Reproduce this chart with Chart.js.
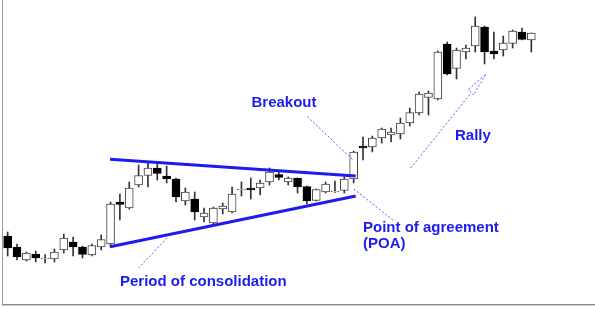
<!DOCTYPE html>
<html>
<head>
<meta charset="utf-8">
<script src="https://cdn.jsdelivr.net/npm/chart.js@4/dist/chart.umd.min.js"></script>
<style>
  html, body { margin: 0; padding: 0; background: #fff; }
  #wrap { width: 595px; height: 309px; position: relative; }
</style>
</head>
<body>
<div id="wrap"><canvas id="velas"></canvas></div>
<script>
// ===== datos de las velas (precio en unidades arbitrarias) =====
const opens  = [73, 62, 49, 55, 50, 50, 59, 67, 62, 54, 62, 65, 107, 101, 124, 133.5, 141, 133, 130, 108,
                110, 92, 86, 100, 97, 119, 121, 121, 127, 134.5, 127, 131, 122.5, 108.5, 117, 117, 118.5, 130,
                163, 162, 171, 174, 175, 186, 196, 211.5, 210, 265, 240.5, 257, 263, 282, 258, 259, 265.5, 277, 269];
const closes = [61, 52, 56, 51, 51, 57, 71, 62, 54.5, 63.5, 69.5, 105, 104.5, 121, 133.5, 141, 135.5, 130, 112, 117,
                97, 96, 101, 103, 115, 120, 119, 126, 137, 131.5, 131, 122, 108, 119.5, 125, 118, 130, 157,
                161, 171, 180, 177, 186, 196.5, 215, 216, 257, 235, 259, 261, 283, 257, 255, 266, 278, 269.5, 276];
const highs  = [77, 65, 57, 58, 54.5, 60, 75, 72, 63, 65, 74, 107, 115, 127, 144, 146, 145, 143, 131, 121,
                117, 101, 102, 106, 122, 127, 131, 129, 141, 137, 132, 131, 123, 120, 127, 128, 132, 158,
                172, 173, 181, 181, 191, 201, 217, 218, 258, 267, 261, 264, 292, 283, 277, 273, 279, 281, 276];
const lows   = [53, 49, 48, 47, 46, 47, 56, 53, 51, 53, 59, 62, 89, 100, 122, 122, 129, 126, 107, 104,
                89, 87, 85, 95, 96, 113, 110, 114, 124, 129, 124, 116, 105, 108, 116, 116.5, 116, 126,
                149, 157, 166, 167, 170, 183, 194, 194, 209, 234, 230, 250, 257, 245, 250, 253, 261, 269, 257];

// ===== anotaciones (en unidades de indice / precio) =====
const lineaSuperior = [{ x: 10.95, y: 149.7 }, { x: 37.22, y: 133 }];
const lineaInferior = [{ x: 10.95, y: 62.3 }, { x: 37.22, y: 113 }];
const guiaBreakout  = [{ x: 32.06, y: 192.3 }, { x: 36.94, y: 149 }];
const guiaPOA       = [{ x: 37.02, y: 120 }, { x: 41.2, y: 89 }];
const guiaPeriodo   = [{ x: 17.05, y: 71 }, { x: 14.0, y: 41 }];
const guiaRally     = [{ x: 43.1, y: 141 }, { x: 49.56, y: 216 }];
const flechaRally   = [{ x: 49.27, y: 219.7 }, { x: 51.16, y: 235 }, { x: 49.81, y: 214 }, { x: 49.27, y: 219.7 }];

const textos = [
    { texto: 'Breakout', x: 251.5, y: 106.5 },
    { texto: 'Rally', x: 455, y: 140 },
    { texto: 'Point of agreement', x: 363, y: 231.5 },
    { texto: '(POA)', x: 363, y: 248 },
    { texto: 'Period of consolidation', x: 120, y: 285.5 }
];

const AZUL = '#1c1cee';
const AZUL_PUNTOS = '#5c5cff';

const indices = opens.map((_, i) => i);
const subida = indices.map(i => closes[i] >= opens[i]);

// marco gris (izquierda y abajo) y textos
const marcoYTextos = {
    id: 'marcoYTextos',
    beforeDraw(chart) {
        const ctx = chart.ctx;
        ctx.save();
        ctx.fillStyle = '#fff';
        ctx.fillRect(0, 0, chart.width, chart.height);
        ctx.fillStyle = '#9a9a9a';
        ctx.fillRect(2, 0, 1, 305);
        ctx.fillStyle = '#8a8a8a';
        ctx.fillRect(2, 304, chart.width - 2, 1);
        ctx.fillStyle = '#c8c8c8';
        ctx.fillRect(2, 305, chart.width - 2, 1);
        ctx.restore();
    },
    afterDraw(chart) {
        const ctx = chart.ctx;
        ctx.save();
        ctx.font = 'bold 15px "Liberation Sans", Arial, sans-serif';
        ctx.fillStyle = AZUL;
        ctx.textBaseline = 'alphabetic';
        textos.forEach(t => ctx.fillText(t.texto, t.x, t.y));
        ctx.restore();
    }
};

function guia(datos) {
    return {
        type: 'line',
        data: datos,
        borderColor: AZUL_PUNTOS,
        borderWidth: 1,
        borderDash: [2, 2],
        pointRadius: 0,
        fill: false,
        order: -1
    };
}

function tendencia(datos) {
    return {
        type: 'line',
        data: datos,
        borderColor: AZUL,
        borderWidth: 3,
        pointRadius: 0,
        fill: false,
        order: -2
    };
}

new Chart(document.getElementById('velas').getContext('2d'), {
    data: {
        datasets: [
            {
                type: 'bar',
                label: 'Mechas',
                data: indices.map(i => ({ x: i, y: [lows[i], highs[i]] })),
                backgroundColor: '#333333',
                borderWidth: 0,
                barThickness: 1,
                grouped: false,
                order: 2
            },
            {
                type: 'bar',
                label: 'Cuerpos',
                data: indices.map(i => ({ x: i, y: [opens[i], closes[i]] })),
                backgroundColor: subida.map(s => s ? '#ffffff' : '#000000'),
                borderColor: subida.map(s => s ? '#444444' : '#000000'),
                borderWidth: 1,
                borderSkipped: false,
                barThickness: 8,
                grouped: false,
                order: 1
            },
            tendencia(lineaSuperior),
            tendencia(lineaInferior),
            guia(guiaBreakout),
            guia(guiaPOA),
            guia(guiaPeriodo),
            guia(guiaRally),
            guia(flechaRally)
        ]
    },
    options: {
        responsive: true,
        maintainAspectRatio: false,
        animation: false,
        layout: {
            padding: { left: 3, right: 59, top: 0, bottom: 0 }
        },
        plugins: {
            legend: { display: false },
            tooltip: { enabled: false }
        },
        scales: {
            x: {
                type: 'linear',
                min: -0.5,
                max: 56.5,
                offset: false,
                display: false
            },
            y: {
                min: 0,
                max: 309,
                display: false
            }
        }
    },
    plugins: [marcoYTextos]
});
</script>
</body>
</html>
